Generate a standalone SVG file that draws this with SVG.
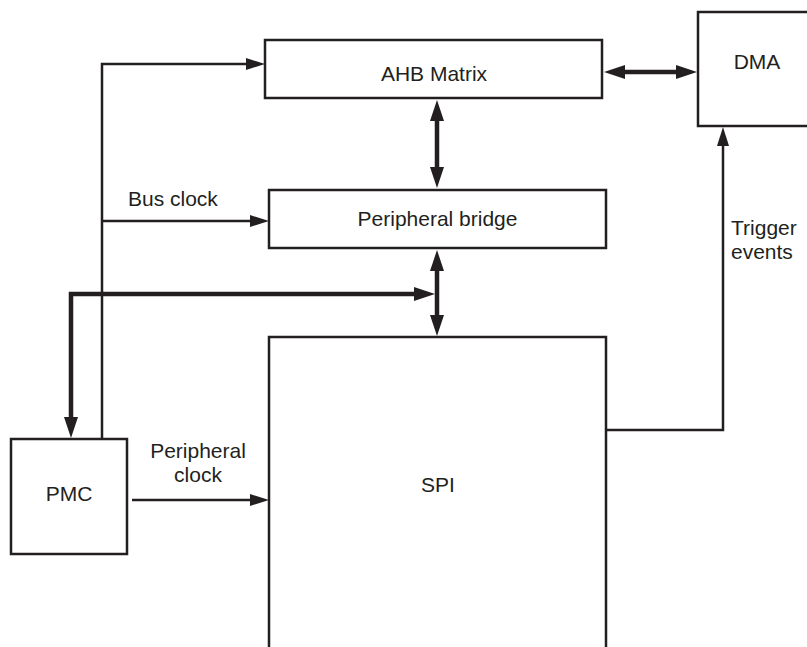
<svg xmlns="http://www.w3.org/2000/svg" width="807" height="647" viewBox="0 0 807 647">
<style>
.box{fill:#fff;stroke:#231f20;stroke-width:2.5}
.t{font-family:"Liberation Sans",Arial,sans-serif;font-size:21px;fill:#231f20}
.c{text-anchor:middle}
.thin{fill:none;stroke:#231f20;stroke-width:2.5;stroke-linejoin:miter}
.thick{fill:none;stroke:#231f20;stroke-width:4.5;stroke-linejoin:miter}
</style>
<defs>
<marker id="ah" markerUnits="userSpaceOnUse" markerWidth="20" markerHeight="12" refX="1" refY="6" orient="auto-start-reverse">
<path d="M0,0 L19,6 L0,12 z" fill="#231f20"/>
</marker>
<marker id="ahT" markerUnits="userSpaceOnUse" markerWidth="22" markerHeight="14" refX="1" refY="7" orient="auto-start-reverse">
<path d="M0,0 L21,7 L0,14 z" fill="#231f20"/>
</marker>
</defs>
<rect width="807" height="647" fill="#fff"/>
<g id="ahb"><rect class="box" x="265" y="40" width="337" height="58"/><text class="t c" x="434" y="81">AHB Matrix</text></g>
<g id="dma"><rect class="box" x="698" y="12" width="118" height="114"/><text class="t c" x="757" y="69">DMA</text></g>
<g id="bridge"><rect class="box" x="269" y="190" width="337" height="58"/><text class="t c" x="437.5" y="226">Peripheral bridge</text></g>
<g id="spi"><rect class="box" x="269" y="337" width="337" height="330"/><text class="t c" x="438" y="492">SPI</text></g>
<g id="pmc"><rect class="box" x="11" y="439" width="116" height="115"/><text class="t c" x="69" y="501">PMC</text></g>
<g id="connectors">
<path class="thin" d="M102,438 V64 H247" marker-end="url(#ah)"/>
<path class="thin" d="M102,221 H251" marker-end="url(#ah)"/>
<path class="thin" d="M132,500 H251" marker-end="url(#ah)"/>
<path class="thin" d="M606,430 H723 V145" marker-end="url(#ah)"/>
<path class="thick" d="M624,72 H677" marker-start="url(#ahT)" marker-end="url(#ahT)"/>
<path class="thick" d="M437,120 V168" marker-start="url(#ahT)" marker-end="url(#ahT)"/>
<path class="thick" d="M437,270 V316" marker-start="url(#ahT)" marker-end="url(#ahT)"/>
<path class="thick" d="M71,418 V294 H415" marker-start="url(#ahT)" marker-end="url(#ahT)"/>
</g>
<g id="labels">
<text class="t" x="128" y="206">Bus clock</text>
<text class="t c" x="198" y="458">Peripheral</text>
<text class="t c" x="198" y="482">clock</text>
<text class="t" x="731" y="235">Trigger</text>
<text class="t" x="731" y="259">events</text>
</g>
</svg>
